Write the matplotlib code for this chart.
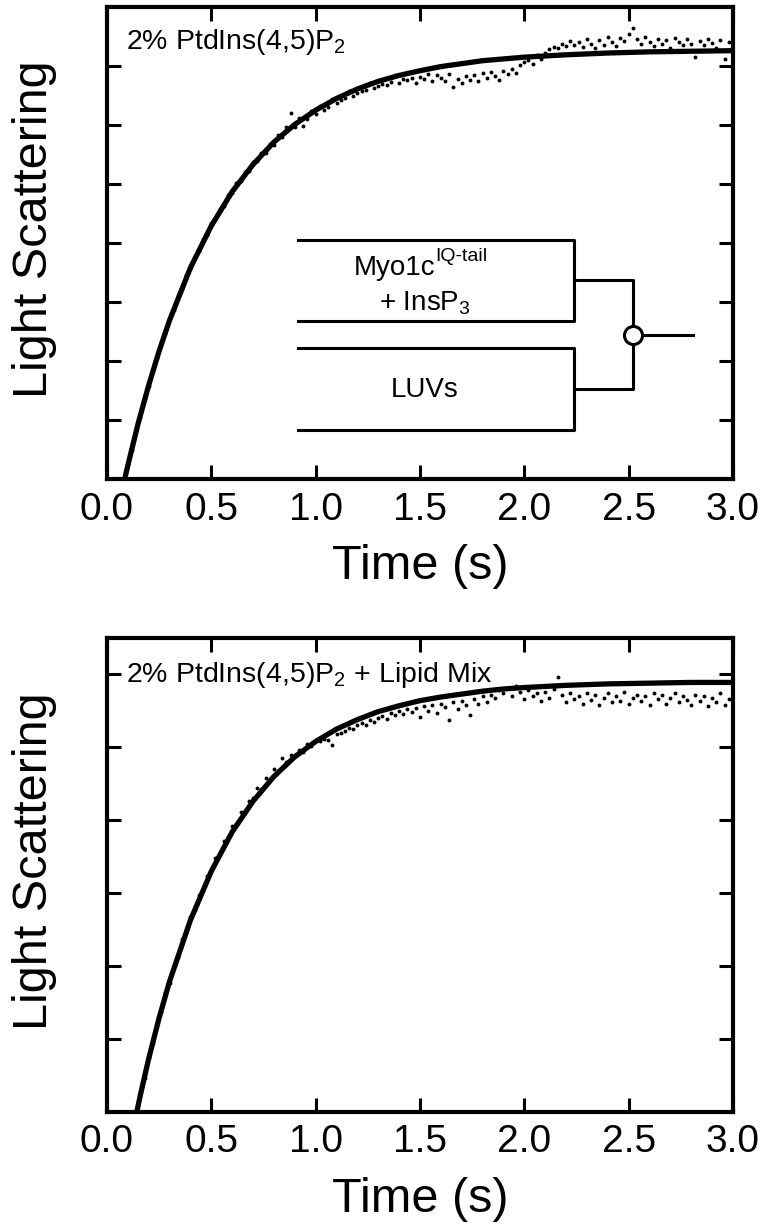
import numpy as np
import matplotlib.pyplot as plt

plt.rcParams['font.family'] = ['Liberation Sans', 'DejaVu Sans']
plt.rcParams['mathtext.fontset'] = 'custom'
plt.rcParams['mathtext.rm'] = 'Liberation Sans'

# ---- data (arbitrary light scattering units) ----
x_ticks = [0.0, 0.5, 1.0, 1.5, 2.0, 2.5, 3.0]
x_ticklabels = ['0.0', '0.5', '1.0', '1.5', '2.0', '2.5', '3.0']

# top panel: 2% PtdIns(4,5)P2
top_ymax = 8.0
top_yticks = [1, 2, 3, 4, 5, 6, 7]
top_fit_t = [0.085, 0.10, 0.15, 0.20, 0.25, 0.30, 0.40, 0.50, 0.60, 0.70, 0.80,
             0.90, 1.00, 1.10, 1.20, 1.30, 1.40, 1.50, 1.60, 1.70, 1.80, 1.90,
             2.00, 2.20, 2.40, 2.60, 2.80, 3.00]
top_fit_y = [0.00, 0.23, 0.95, 1.59, 2.17, 2.69, 3.58, 4.29, 4.87, 5.33, 5.71,
             6.01, 6.25, 6.45, 6.61, 6.74, 6.84, 6.92, 6.99, 7.04, 7.09, 7.12,
             7.15, 7.19, 7.22, 7.24, 7.25, 7.26]
top_dots_t0 = 0.10
top_dots_dt = 0.02
top_dots = [
    0.25, 0.49, 0.83, 1.05, 1.36, 1.57, 1.87, 2.05, 2.33, 2.48,
    2.73, 2.86, 3.10, 3.22, 3.45, 3.56, 3.78, 3.86, 4.07, 4.14,
    4.34, 4.40, 4.58, 4.63, 4.82, 4.85, 5.02, 5.05, 5.21, 5.22,
    5.38, 5.39, 5.53, 5.52, 5.68, 5.66, 5.83, 5.80, 5.96, 6.20,
    5.96, 6.12, 5.99, 6.10, 6.24, 6.18, 6.33, 6.26, 6.31, 6.44,
    6.37, 6.42, 6.45, 6.58, 6.49, 6.55, 6.57, 6.60, 6.72, 6.62,
    6.66, 6.70, 6.68, 6.73, 6.85, 6.72, 6.78, 6.76, 6.80, 6.72,
    6.82, 6.78, 6.86, 6.75, 6.84, 6.80, 6.74, 6.86, 6.65, 6.78,
    6.72, 6.83, 6.76, 6.85, 6.74, 6.88, 6.80, 6.90, 6.83, 6.76,
    6.92, 6.86, 6.95, 6.88, 7.02, 7.06, 7.10, 7.04, 7.18, 7.12,
    7.22, 7.28, 7.33, 7.30, 7.38, 7.34, 7.42, 7.36, 7.40, 7.33,
    7.45, 7.38, 7.30, 7.44, 7.36, 7.50, 7.40, 7.34, 7.47, 7.42,
    7.55, 7.64, 7.45, 7.38, 7.49, 7.41, 7.34, 7.46, 7.38, 7.44,
    7.30, 7.48, 7.40, 7.36, 7.45, 7.38, 7.15, 7.42, 7.35, 7.46,
    7.39, 7.31, 7.44, 7.12, 7.40, 7.36]

# bottom panel: 2% PtdIns(4,5)P2 + lipid mix
bot_ymax = 6.5
bot_yticks = [1, 2, 3, 4, 5, 6]
bot_fit_t = [0.143, 0.16, 0.20, 0.25, 0.30, 0.40, 0.50, 0.60, 0.70, 0.80, 0.90,
             1.00, 1.10, 1.20, 1.30, 1.40, 1.50, 1.60, 1.70, 1.80, 1.90, 2.00,
             2.20, 2.40, 2.60, 2.80, 3.00]
bot_fit_y = [0.00, 0.23, 0.73, 1.29, 1.79, 2.63, 3.30, 3.84, 4.26, 4.60, 4.87,
             5.08, 5.25, 5.38, 5.49, 5.57, 5.64, 5.69, 5.73, 5.77, 5.80, 5.82,
             5.85, 5.87, 5.88, 5.89, 5.89]
bot_dots_t0 = 0.16
bot_dots_dt = 0.02
bot_dots = [
    0.25, 0.46, 0.76, 0.94, 1.22, 1.37, 1.63, 1.77, 2.01, 2.13,
    2.37, 2.46, 2.68, 2.77, 2.98, 3.04, 3.24, 3.31, 3.48, 3.55,
    3.71, 3.76, 3.92, 3.95, 4.12, 4.13, 4.27, 4.30, 4.44, 4.43,
    4.58, 4.56, 4.70, 4.68, 4.86, 4.80, 4.90, 4.88, 4.97, 4.94,
    5.04, 5.02, 5.10, 5.08, 5.12, 5.10, 5.03, 5.18, 5.20, 5.22,
    5.27, 5.25, 5.30, 5.33, 5.31, 5.38, 5.35, 5.40, 5.43, 5.39,
    5.47, 5.44, 5.50, 5.46, 5.52, 5.48, 5.54, 5.42, 5.56, 5.50,
    5.58, 5.47, 5.60, 5.55, 5.38, 5.62, 5.52, 5.64, 5.58, 5.45,
    5.66, 5.60, 5.70, 5.62, 5.72, 5.68, 5.78, 5.74, 5.82, 5.70,
    5.84, 5.76, 5.66, 5.78, 5.70, 5.74, 5.64, 5.76, 5.68, 5.80,
    5.96, 5.72, 5.62, 5.75, 5.66, 5.70, 5.60, 5.74, 5.65, 5.72,
    5.58, 5.68, 5.74, 5.62, 5.70, 5.64, 5.76, 5.60, 5.68, 5.72,
    5.63, 5.70, 5.58, 5.74, 5.66, 5.72, 5.60, 5.68, 5.75, 5.62,
    5.70, 5.65, 5.58, 5.72, 5.64, 5.70, 5.56, 5.68, 5.62, 5.74,
    5.58, 5.66, 5.70]

top_label = '2% PtdIns(4,5)P$_\\mathregular{2}$'
bot_label = '2% PtdIns(4,5)P$_\\mathregular{2}$ + Lipid Mix'


def style_axes(ax, ymax, yticks):
    ax.set_xlim(0, 3)
    ax.set_ylim(0, ymax)
    ax.set_xticks(x_ticks)
    ax.set_xticklabels(x_ticklabels)
    ax.set_yticks(yticks)
    ax.tick_params(direction='in', top=True, right=True, length=10, width=2.2,
                   labelsize=28, pad=9, labelleft=False)
    for sp in ax.spines.values():
        sp.set_linewidth(3)
    ax.set_xlabel('Time (s)', fontsize=35)
    ax.xaxis.set_label_coords(0.5, -0.185)
    ax.xaxis.label.set_verticalalignment('center')
    ax.set_ylabel('Light Scattering', fontsize=35)
    ax.yaxis.set_label_coords(-0.115, 0.53)
    ax.yaxis.label.set_verticalalignment('center')


def draw_panel(ax, t0, dt, dots, fit_t, fit_y, label, ymax, yticks, label_y):
    t = t0 + dt * np.arange(len(dots))
    ax.plot(t, dots, 'o', color='black', ms=2.8, mew=0, zorder=2)
    ax.plot(fit_t, fit_y, color='black', lw=3.8, solid_capstyle='butt', zorder=3)
    ax.text(0.03, label_y, label, transform=ax.transAxes, fontsize=20.5,
            ha='left', va='center')
    style_axes(ax, ymax, yticks)


fig = plt.figure(figsize=(7.64, 12.28), dpi=100)
ax1 = fig.add_axes([0.140, 0.6099, 0.8194, 0.3844])
ax2 = fig.add_axes([0.140, 0.0945, 0.8194, 0.3860])

draw_panel(ax1, top_dots_t0, top_dots_dt, top_dots, top_fit_t, top_fit_y,
           top_label, top_ymax, top_yticks, 0.925)
draw_panel(ax2, bot_dots_t0, bot_dots_dt, bot_dots, bot_fit_t, bot_fit_y,
           bot_label, bot_ymax, bot_yticks, 0.922)

# mixing schematic in the top panel (axes fractions)
tr = ax1.transAxes
kw = dict(color='black', lw=2.2, transform=tr, solid_capstyle='projecting')
x_l, x_r, x_j, x_o = 0.305, 0.746, 0.840, 0.936
ax1.plot([x_l, x_r, x_r, x_l], [0.506, 0.506, 0.335, 0.335], **kw)
ax1.plot([x_l, x_r, x_r, x_l], [0.278, 0.278, 0.104, 0.104], **kw)
ax1.plot([x_r, x_j, x_j, x_r], [0.422, 0.422, 0.191, 0.191], **kw)
ax1.plot([x_j, x_o], [0.305, 0.305], **kw)
ax1.plot([x_j], [0.305], 'o', ms=13, mfc='white', mec='black', mew=2.2,
         transform=tr, zorder=5)

myo = ax1.text(0.524, 0.447, 'Myo1c', transform=tr, fontsize=20,
               ha='right', va='center')
ax1.annotate('IQ-tail', xy=(1.0, 0.62), xycoords=myo, fontsize=14,
             ha='left', va='bottom')
ax1.text(0.508, 0.373, '+ InsP$_\\mathregular{3}$', transform=tr, fontsize=20,
         ha='center', va='center')
ax1.text(0.508, 0.189, 'LUVs', transform=tr, fontsize=20,
         ha='center', va='center')

fig.savefig('out.png', dpi=100)
